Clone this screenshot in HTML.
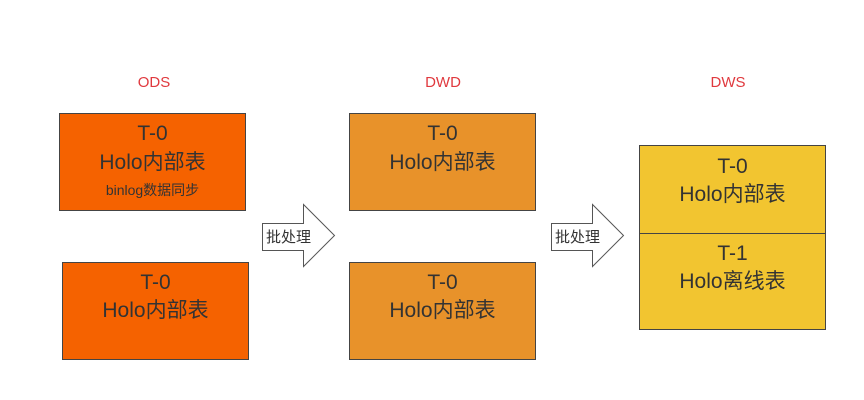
<!DOCTYPE html>
<html><head><meta charset="utf-8"><style>
body{margin:0;background:#fff;width:864px;height:400px;overflow:hidden;position:relative;font-family:"Liberation Sans","Noto Sans CJK SC",sans-serif;}
.b{position:absolute;border:1px solid #444;box-sizing:border-box;color:#333;text-align:center;}
.t{position:absolute;left:0;right:0;font-size:21px;line-height:24px;}
.lbl{position:absolute;color:#e0393e;font-size:15px;width:100px;text-align:center;}
</style></head><body>
<div class="lbl" style="left:104px;top:74px">ODS</div>
<div class="lbl" style="left:393px;top:74px">DWD</div>
<div class="lbl" style="left:678px;top:74px">DWS</div>

<div class="b" style="left:59px;top:113px;width:187px;height:98px;background:#f56200">
<div class="t" style="top:8px">T-0</div><div class="t" style="top:37px">Holo内部表</div>
<div class="t" style="top:64px;font-size:14px">binlog数据同步</div></div>
<div class="b" style="left:62px;top:262px;width:187px;height:98px;background:#f56200">
<div class="t" style="top:8px">T-0</div><div class="t" style="top:36px">Holo内部表</div></div>

<div class="b" style="left:349px;top:113px;width:187px;height:98px;background:#e8922a">
<div class="t" style="top:8px">T-0</div><div class="t" style="top:37px">Holo内部表</div></div>
<div class="b" style="left:349px;top:262px;width:187px;height:98px;background:#e8922a">
<div class="t" style="top:8px">T-0</div><div class="t" style="top:36px">Holo内部表</div></div>

<div class="b" style="left:639px;top:145px;width:187px;height:185px;background:#f2c530">
<div class="t" style="top:9px">T-0</div><div class="t" style="top:37px">Holo内部表</div>
<div style="position:absolute;left:0;right:0;top:87px;border-top:1px solid #444"></div>
<div class="t" style="top:96px">T-1</div><div class="t" style="top:124px">Holo离线表</div></div>

<svg width="864" height="400" style="position:absolute;left:0;top:0">
<polygon points="262.5,223.5 303.5,223.5 303.5,204.5 334.5,235.5 303.5,266.5 303.5,250.5 262.5,250.5" fill="#fff" stroke="#555" stroke-width="1"/>
<polygon points="551.5,223.5 592.5,223.5 592.5,204.5 623.5,235.5 592.5,266.5 592.5,250.5 551.5,250.5" fill="#fff" stroke="#555" stroke-width="1"/>
<text x="266" y="242" font-size="15" fill="#333" font-family="Liberation Sans,Noto Sans CJK SC,sans-serif">批处理</text>
<text x="555" y="242" font-size="15" fill="#333" font-family="Liberation Sans,Noto Sans CJK SC,sans-serif">批处理</text>
</svg>
</body></html>
